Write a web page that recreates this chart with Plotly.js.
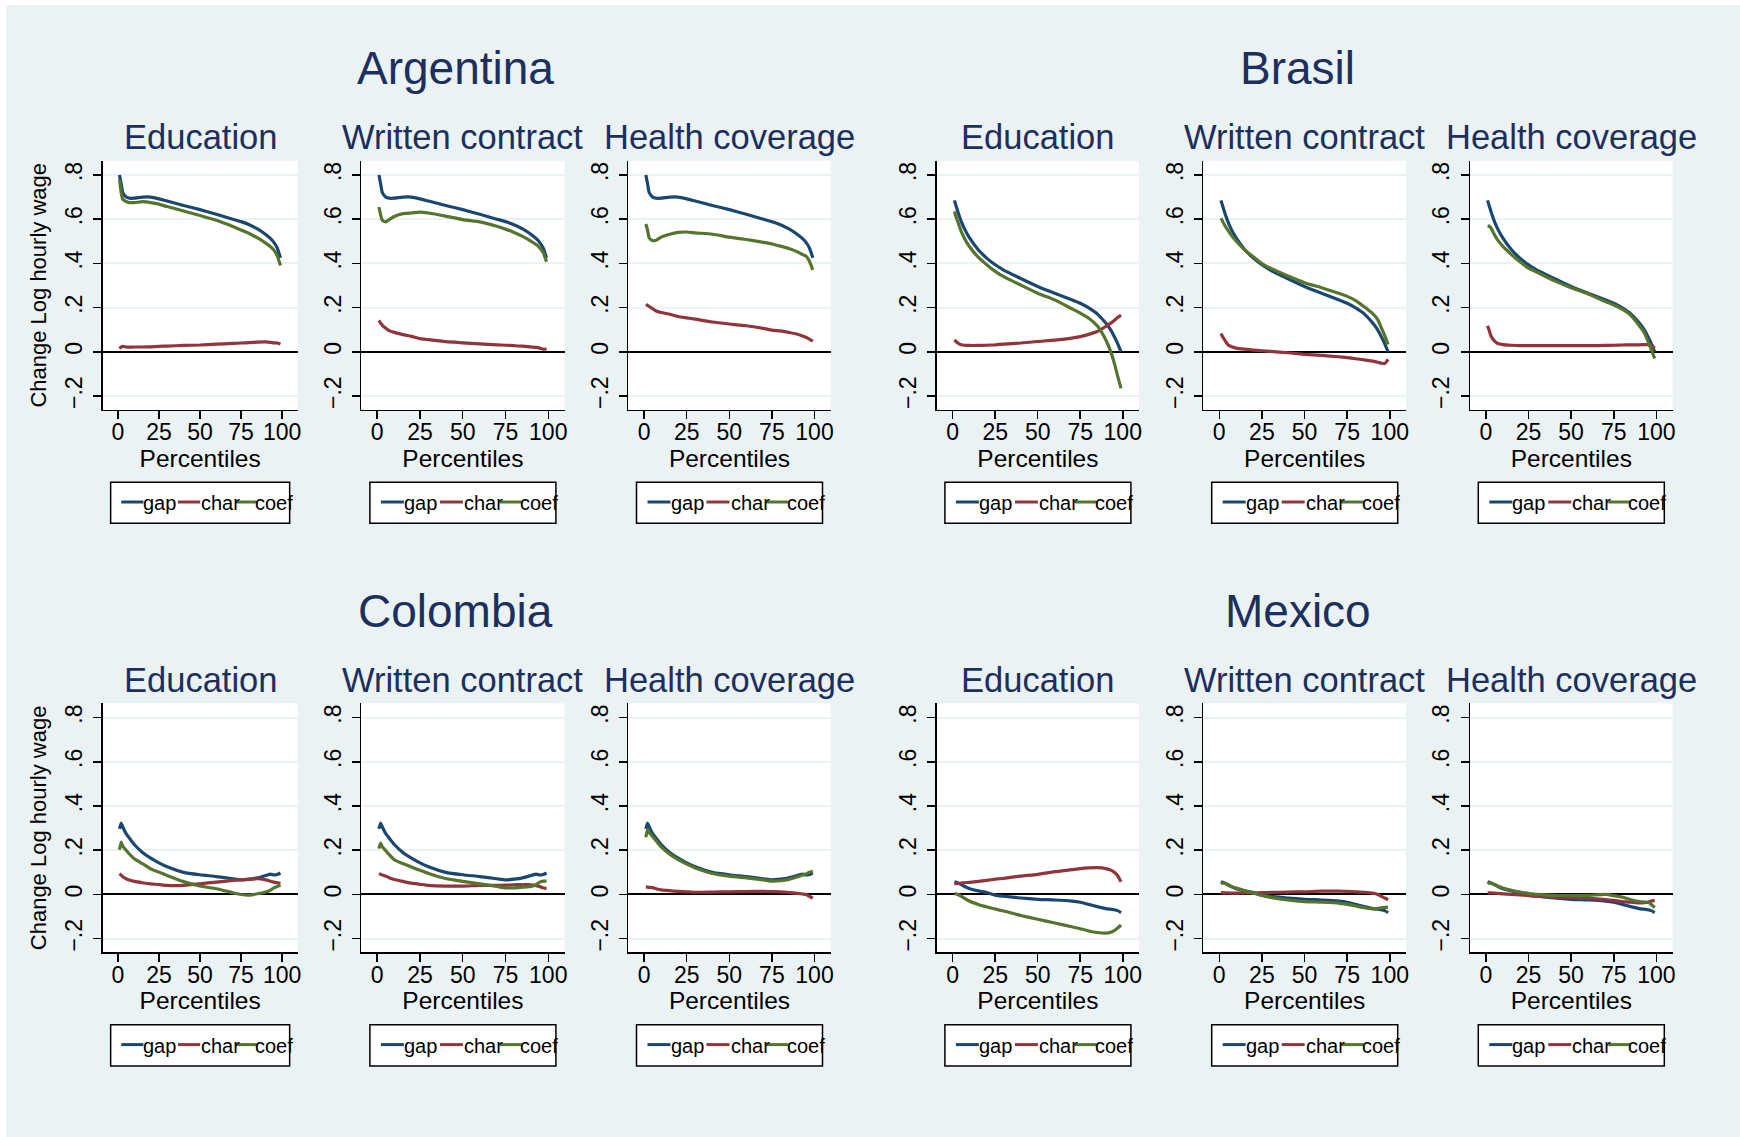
<!DOCTYPE html>
<html>
<head>
<meta charset="utf-8">
<script src="https://cdn.plot.ly/plotly-3.0.1.min.js"></script>
<style>
  html, body { margin: 0; padding: 0; background: #ffffff; }
  #chart { position: absolute; left: 6px; top: 5px; width: 1734px; height: 1132px; }
</style>
</head>
<body>
<div id="chart"></div>
<script>
// Percentiles at which each decomposition curve is evaluated
const pct = [1, 2, 3, 5, 7, 10, 15, 20, 25, 30, 40, 50, 60, 70, 75, 80, 85, 90, 93, 95, 97, 99];

const countries = ['Argentina', 'Brasil', 'Colombia', 'Mexico'];
const panelTitles = ['Education', 'Written contract', 'Health coverage'];
const seriesNames = ['gap', 'char', 'coef'];
const xTickVals = [0, 25, 50, 75, 100];
const yTickVals = [-0.2, 0, 0.2, 0.4, 0.6, 0.8];
const yTickText = ['\u2212.2', '0', '.2', '.4', '.6', '.8'];
const yTitle = 'Change Log hourly wage';
const xTitle = 'Percentiles';

// Argentina
const gapArgentina  = [0.800, 0.760, 0.720, 0.700, 0.695, 0.695, 0.700, 0.700, 0.692, 0.682, 0.662, 0.643, 0.622, 0.600, 0.589, 0.575, 0.556, 0.531, 0.512, 0.495, 0.470, 0.425];
const charArgEdu    = [0.015, 0.022, 0.025, 0.022, 0.021, 0.022, 0.022, 0.023, 0.025, 0.026, 0.029, 0.031, 0.035, 0.038, 0.040, 0.042, 0.044, 0.045, 0.043, 0.041, 0.040, 0.035];
const coefArgEdu    = [0.780, 0.720, 0.690, 0.680, 0.675, 0.675, 0.679, 0.675, 0.668, 0.657, 0.637, 0.617, 0.595, 0.567, 0.551, 0.535, 0.515, 0.492, 0.475, 0.460, 0.435, 0.391];
const charArgCon    = [0.142, 0.130, 0.120, 0.107, 0.096, 0.088, 0.078, 0.070, 0.060, 0.055, 0.046, 0.041, 0.036, 0.032, 0.030, 0.028, 0.026, 0.022, 0.020, 0.017, 0.012, 0.012];
const coefArgCon    = [0.655, 0.620, 0.595, 0.588, 0.598, 0.612, 0.625, 0.628, 0.632, 0.628, 0.614, 0.598, 0.588, 0.568, 0.555, 0.540, 0.522, 0.500, 0.485, 0.470, 0.450, 0.407];
const charArgHea    = [0.215, 0.210, 0.205, 0.195, 0.185, 0.178, 0.170, 0.160, 0.154, 0.148, 0.135, 0.126, 0.118, 0.106, 0.098, 0.095, 0.088, 0.080, 0.072, 0.066, 0.058, 0.048];
const coefArgHea    = [0.578, 0.550, 0.515, 0.503, 0.505, 0.519, 0.532, 0.540, 0.542, 0.538, 0.532, 0.519, 0.508, 0.495, 0.488, 0.478, 0.467, 0.452, 0.440, 0.433, 0.410, 0.371];

// Brasil
const gapBrasil     = [0.685, 0.660, 0.635, 0.590, 0.555, 0.514, 0.462, 0.424, 0.394, 0.370, 0.332, 0.296, 0.265, 0.236, 0.220, 0.199, 0.172, 0.130, 0.098, 0.069, 0.037, 0.000];
const charBraEdu    = [0.054, 0.047, 0.040, 0.032, 0.030, 0.029, 0.029, 0.030, 0.032, 0.035, 0.040, 0.047, 0.053, 0.062, 0.069, 0.079, 0.092, 0.115, 0.130, 0.142, 0.155, 0.166];
const coefBraEdu    = [0.635, 0.610, 0.588, 0.545, 0.512, 0.474, 0.428, 0.394, 0.364, 0.340, 0.302, 0.265, 0.235, 0.195, 0.175, 0.152, 0.118, 0.055, 0.000, -0.050, -0.110, -0.165];
const charBraCon    = [0.083, 0.068, 0.056, 0.033, 0.024, 0.017, 0.012, 0.008, 0.005, 0.002, -0.004, -0.011, -0.016, -0.022, -0.026, -0.031, -0.036, -0.042, -0.047, -0.051, -0.053, -0.034];
const coefBraCon    = [0.604, 0.590, 0.575, 0.550, 0.528, 0.500, 0.460, 0.430, 0.399, 0.378, 0.344, 0.313, 0.290, 0.265, 0.251, 0.232, 0.204, 0.173, 0.145, 0.110, 0.075, 0.033];
const charBraHea    = [0.118, 0.095, 0.072, 0.050, 0.038, 0.033, 0.030, 0.028, 0.028, 0.028, 0.028, 0.028, 0.028, 0.029, 0.030, 0.031, 0.032, 0.032, 0.033, 0.033, 0.030, 0.017];
const coefBraHea    = [0.570, 0.568, 0.560, 0.530, 0.505, 0.477, 0.440, 0.407, 0.379, 0.360, 0.322, 0.290, 0.262, 0.228, 0.212, 0.193, 0.165, 0.118, 0.085, 0.048, 0.010, -0.030];

// Colombia
const gapColombia   = [0.297, 0.323, 0.305, 0.275, 0.255, 0.226, 0.190, 0.164, 0.143, 0.125, 0.100, 0.089, 0.081, 0.071, 0.066, 0.069, 0.075, 0.086, 0.092, 0.088, 0.090, 0.097];
const charColEdu    = [0.094, 0.087, 0.080, 0.071, 0.065, 0.059, 0.053, 0.048, 0.045, 0.041, 0.041, 0.048, 0.056, 0.063, 0.066, 0.068, 0.071, 0.066, 0.060, 0.056, 0.053, 0.050];
const coefColEdu    = [0.202, 0.237, 0.218, 0.200, 0.183, 0.161, 0.139, 0.116, 0.101, 0.086, 0.058, 0.038, 0.026, 0.008, 0.000, -0.003, 0.003, 0.011, 0.020, 0.030, 0.036, 0.043];
const charColCon    = [0.094, 0.091, 0.088, 0.083, 0.076, 0.068, 0.059, 0.051, 0.046, 0.041, 0.038, 0.038, 0.041, 0.041, 0.042, 0.044, 0.044, 0.044, 0.040, 0.036, 0.030, 0.026];
const coefColCon    = [0.207, 0.232, 0.215, 0.198, 0.180, 0.157, 0.140, 0.124, 0.109, 0.095, 0.072, 0.059, 0.048, 0.036, 0.030, 0.030, 0.033, 0.036, 0.045, 0.056, 0.060, 0.060];
const charColHea    = [0.034, 0.033, 0.032, 0.031, 0.026, 0.021, 0.017, 0.014, 0.012, 0.010, 0.011, 0.012, 0.013, 0.014, 0.013, 0.012, 0.009, 0.005, 0.002, 0.000, -0.008, -0.017];
const coefColHea    = [0.259, 0.293, 0.280, 0.262, 0.243, 0.215, 0.182, 0.157, 0.137, 0.120, 0.095, 0.083, 0.075, 0.066, 0.060, 0.062, 0.068, 0.080, 0.088, 0.093, 0.100, 0.105];

// Mexico
const gapMexico     = [0.057, 0.055, 0.052, 0.045, 0.036, 0.026, 0.016, 0.009, -0.003, -0.008, -0.016, -0.022, -0.025, -0.030, -0.035, -0.045, -0.055, -0.064, -0.067, -0.069, -0.073, -0.082];
const charMexEdu    = [0.048, 0.049, 0.050, 0.051, 0.053, 0.055, 0.059, 0.064, 0.069, 0.073, 0.083, 0.091, 0.103, 0.112, 0.117, 0.120, 0.121, 0.117, 0.110, 0.100, 0.085, 0.057];
const coefMexEdu    = [0.003, 0.003, 0.000, -0.008, -0.018, -0.031, -0.045, -0.056, -0.066, -0.075, -0.095, -0.112, -0.129, -0.146, -0.155, -0.165, -0.172, -0.175, -0.171, -0.164, -0.152, -0.138];
const charMexCon    = [0.008, 0.008, 0.007, 0.007, 0.006, 0.006, 0.007, 0.007, 0.008, 0.009, 0.011, 0.012, 0.015, 0.015, 0.014, 0.012, 0.010, 0.006, 0.000, -0.009, -0.016, -0.024];
const coefMexCon    = [0.048, 0.052, 0.051, 0.043, 0.036, 0.029, 0.017, 0.006, -0.005, -0.013, -0.025, -0.032, -0.035, -0.039, -0.045, -0.052, -0.060, -0.065, -0.064, -0.060, -0.058, -0.057];
const charMexHea    = [0.008, 0.007, 0.007, 0.006, 0.005, 0.003, 0.000, -0.002, -0.005, -0.007, -0.012, -0.015, -0.018, -0.023, -0.027, -0.032, -0.035, -0.038, -0.037, -0.035, -0.030, -0.027];
const coefMexHea    = [0.048, 0.053, 0.052, 0.045, 0.038, 0.029, 0.019, 0.011, 0.005, 0.000, -0.004, -0.005, -0.004, 0.000, -0.005, -0.012, -0.024, -0.032, -0.034, -0.035, -0.045, -0.060];

// Curves for each country: [gap, [char, coef] per panel]
const curves = [
  [gapArgentina, [[charArgEdu, coefArgEdu], [charArgCon, coefArgCon], [charArgHea, coefArgHea]]],
  [gapBrasil,    [[charBraEdu, coefBraEdu], [charBraCon, coefBraCon], [charBraHea, coefBraHea]]],
  [gapColombia,  [[charColEdu, coefColEdu], [charColCon, coefColCon], [charColHea, coefColHea]]],
  [gapMexico,    [[charMexEdu, coefMexEdu], [charMexCon, coefMexCon], [charMexHea, coefMexHea]]]
];

// ---- styling ----
const colors = { gap: '#1A476F', char: '#90353B', coef: '#55752F' };
const titleColor = '#1C2F5E';
const bgColor = '#EAF2F3';
const FONT = 'Liberation Sans, Arial, Helvetica, sans-serif';

// Page geometry in pixels (the plot div is offset by 6,5 inside the page)
const W = 1734, H = 1132, OX = 6, OY = 5;
const px = p => (p - OX) / W;
const py = p => 1 - (p - OY) / H;

const colPx = [[102.6, 297.7], [361.3, 564.5], [628.3, 830.7],
               [936.9, 1138.9], [1203.4, 1406.0], [1470.0, 1672.6]];
const rowPx = [[160.8, 409.8], [703.4, 952.4]];
const rowShift = 542.6;
const groupCenter = [455.5, 1297.7];

const data = [];
const layout = {
  width: W, height: H,
  margin: { l: 0, r: 0, t: 0, b: 0 },
  paper_bgcolor: bgColor,
  plot_bgcolor: '#ffffff',
  showlegend: false,
  hovermode: false,
  font: { family: FONT, color: '#000000' },
  annotations: [],
  shapes: []
};

countries.forEach((country, c) => {
  const g = c % 2, r = Math.floor(c / 2);
  const [gap, panels] = curves[c];
  const dy = r * rowShift;

  layout.annotations.push({
    text: country, xref: 'paper', yref: 'paper',
    x: px(groupCenter[g]), y: py(68 + dy), xanchor: 'center', yanchor: 'middle',
    showarrow: false, font: { family: FONT, size: 46, color: titleColor }
  });

  panels.forEach((pair, k) => {
    const n = c * 3 + k + 1;
    const xa = 'xaxis' + (n > 1 ? n : ''), ya = 'yaxis' + (n > 1 ? n : '');
    const xr = 'x' + (n > 1 ? n : ''), yr = 'y' + (n > 1 ? n : '');
    const col = colPx[g * 3 + k], row = rowPx[r];

    [gap, pair[0], pair[1]].forEach((vals, s) => {
      data.push({
        type: 'scatter', mode: 'lines', x: pct, y: vals,
        name: seriesNames[s], xaxis: xr, yaxis: yr,
        line: { color: colors[seriesNames[s]], width: 3.2, shape: 'spline', smoothing: 0.5 }
      });
    });

    layout[xa] = {
      domain: [px(col[0]), px(col[1])], anchor: yr,
      range: [-9.3, 109.5], tickvals: xTickVals, ticktext: xTickVals.map(String),
      showline: true, linecolor: '#000000', linewidth: 1.5,
      ticks: 'outside', ticklen: 8, tickwidth: 1.5, tickcolor: '#000000',
      ticklabelstandoff: -7,
      showgrid: false, zeroline: false, fixedrange: true,
      tickfont: { family: FONT, size: 23, color: '#000000' },
      title: { text: xTitle, font: { family: FONT, size: 24.5, color: '#000000' }, standoff: 1 }
    };
    layout[ya] = {
      domain: [py(row[1]), py(row[0])], anchor: xr,
      range: [-0.262, 0.864], tickvals: yTickVals, ticktext: yTickText, tickangle: -90,
      showline: true, linecolor: '#000000', linewidth: 1.5,
      ticks: 'outside', ticklen: 8, tickwidth: 1.5, tickcolor: '#000000',
      ticklabelstandoff: 2,
      showgrid: true, gridcolor: bgColor, gridwidth: 2,
      zeroline: true, zerolinecolor: '#000000', zerolinewidth: 2, fixedrange: true,
      tickfont: { family: FONT, size: 23, color: '#000000' }
    };
    if (g === 0 && k === 0) {
      layout[ya].title = { text: yTitle, font: { family: FONT, size: 22, color: '#000000' }, standoff: 8 };
    }

    const center = (col[0] + col[1]) / 2;
    layout.annotations.push({
      text: panelTitles[k], xref: 'paper', yref: 'paper',
      x: px(center), y: py(137 + dy), xanchor: 'center', yanchor: 'middle',
      showarrow: false, font: { family: FONT, size: 34.5, color: titleColor }
    });

    // legend box under each panel
    const bw = (g === 0 && k === 0) ? 179 : 186;
    const s = bw / 186;
    const left = center - bw / 2;
    const top = 482.2 + dy, bottom = 523.3 + dy, mid = 503 + dy;
    layout.shapes.push({
      type: 'rect', xref: 'paper', yref: 'paper',
      x0: px(left), x1: px(left + bw), y0: py(bottom), y1: py(top),
      fillcolor: '#ffffff', line: { color: '#000000', width: 1.5 }
    });
    const samples = [[11, 34, 33], [70, 93, 93], [130, 152, 149]];
    samples.forEach((sm, i) => {
      layout.shapes.push({
        type: 'line', xref: 'paper', yref: 'paper',
        x0: px(left + sm[0] * s), x1: px(left + sm[1] * s), y0: py(mid - 1), y1: py(mid - 1),
        line: { color: colors[seriesNames[i]], width: 3 }
      });
      layout.annotations.push({
        text: seriesNames[i], xref: 'paper', yref: 'paper',
        x: px(left + sm[2] * s), y: py(mid), xanchor: 'left', yanchor: 'middle',
        showarrow: false, borderpad: 0, font: { family: FONT, size: 20, color: '#000000' }
      });
    });
  });
});

Plotly.newPlot('chart', data, layout, { displayModeBar: false, staticPlot: true });
</script>
</body>
</html>
